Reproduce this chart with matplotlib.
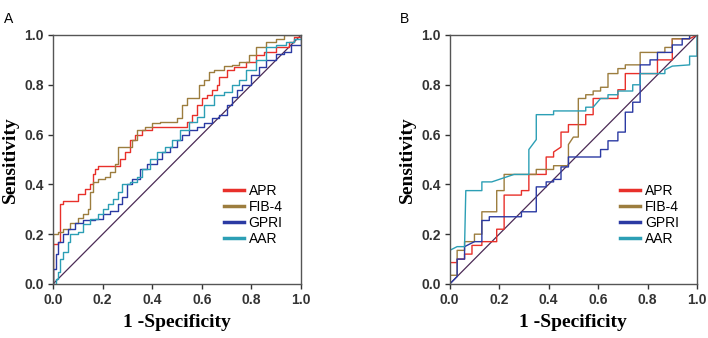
import matplotlib.pyplot as plt

# Panel A (steps)
a_apr_x = [0, 0, 0.02, 0.03, 0.04, 0.09, 0.10, 0.13, 0.15, 0.16, 0.17, 0.18, 0.25, 0.27, 0.29, 0.31, 0.33, 0.36, 0.40, 0.52, 0.54, 0.56, 0.58, 0.60, 0.62, 0.64, 0.66, 0.67, 0.70, 0.73, 0.78, 0.82, 0.85, 0.90, 0.95, 0.97, 1.0]
a_apr_y = [0, 0.16, 0.17, 0.32, 0.335, 0.335, 0.36, 0.38, 0.40, 0.44, 0.46, 0.475, 0.475, 0.50, 0.53, 0.58, 0.60, 0.62, 0.63, 0.63, 0.65, 0.68, 0.72, 0.745, 0.76, 0.78, 0.80, 0.83, 0.86, 0.87, 0.89, 0.92, 0.93, 0.95, 0.97, 0.99, 1.0]
a_fib_x = [0, 0, 0, 0.02, 0.04, 0.07, 0.10, 0.12, 0.14, 0.15, 0.16, 0.18, 0.21, 0.23, 0.25, 0.26, 0.29, 0.32, 0.34, 0.37, 0.40, 0.43, 0.50, 0.52, 0.54, 0.57, 0.59, 0.61, 0.63, 0.65, 0.69, 0.72, 0.75, 0.79, 0.82, 0.86, 0.90, 0.93, 1.0]
a_fib_y = [0, 0.08, 0.20, 0.21, 0.22, 0.245, 0.265, 0.28, 0.30, 0.37, 0.41, 0.42, 0.43, 0.45, 0.48, 0.55, 0.55, 0.58, 0.62, 0.63, 0.645, 0.65, 0.665, 0.72, 0.745, 0.745, 0.80, 0.82, 0.85, 0.86, 0.875, 0.88, 0.89, 0.92, 0.95, 0.97, 0.985, 1.0, 1.0]
a_gpri_x = [0, 0, 0.01, 0.02, 0.04, 0.06, 0.09, 0.12, 0.17, 0.20, 0.23, 0.26, 0.28, 0.30, 0.32, 0.35, 0.38, 0.42, 0.44, 0.47, 0.50, 0.52, 0.55, 0.58, 0.61, 0.64, 0.67, 0.70, 0.72, 0.74, 0.76, 0.80, 0.83, 0.86, 0.90, 0.93, 0.96, 1.0]
a_gpri_y = [0, 0.06, 0.12, 0.17, 0.20, 0.22, 0.245, 0.255, 0.26, 0.28, 0.295, 0.32, 0.35, 0.40, 0.42, 0.46, 0.48, 0.50, 0.53, 0.55, 0.58, 0.60, 0.62, 0.63, 0.645, 0.665, 0.68, 0.72, 0.75, 0.78, 0.80, 0.84, 0.87, 0.90, 0.925, 0.93, 0.96, 1.0]
a_aar_x = [0, 0.01, 0.02, 0.03, 0.04, 0.06, 0.07, 0.10, 0.12, 0.15, 0.18, 0.20, 0.22, 0.24, 0.26, 0.28, 0.31, 0.34, 0.36, 0.39, 0.42, 0.45, 0.48, 0.51, 0.55, 0.58, 0.61, 0.65, 0.69, 0.72, 0.75, 0.78, 0.82, 0.86, 0.90, 0.94, 0.97, 1.0]
a_aar_y = [0, 0.02, 0.05, 0.10, 0.13, 0.17, 0.20, 0.21, 0.24, 0.26, 0.28, 0.30, 0.32, 0.34, 0.37, 0.40, 0.41, 0.43, 0.46, 0.50, 0.53, 0.55, 0.58, 0.62, 0.65, 0.67, 0.72, 0.76, 0.77, 0.80, 0.82, 0.86, 0.90, 0.95, 0.96, 0.97, 0.985, 1.0]

# Panel B (vertices)
b_apr_x = [0, 0, 0.03, 0.03, 0.06, 0.06, 0.09, 0.09, 0.13, 0.13, 0.19, 0.19, 0.22, 0.22, 0.26, 0.29, 0.29, 0.32, 0.32, 0.39, 0.39, 0.42, 0.42, 0.45, 0.45, 0.48, 0.48, 0.55, 0.55, 0.58, 0.58, 0.68, 0.68, 0.71, 0.71, 0.84, 0.84, 0.90, 0.90, 0.97, 1.0]
b_apr_y = [0, 0.086, 0.086, 0.10, 0.10, 0.12, 0.12, 0.155, 0.155, 0.17, 0.17, 0.22, 0.22, 0.357, 0.357, 0.357, 0.375, 0.375, 0.44, 0.44, 0.51, 0.51, 0.53, 0.55, 0.61, 0.61, 0.64, 0.64, 0.68, 0.68, 0.745, 0.745, 0.78, 0.78, 0.845, 0.845, 0.90, 0.90, 0.985, 0.985, 1.0]
b_fib_x = [0, 0, 0.03, 0.03, 0.06, 0.06, 0.10, 0.10, 0.13, 0.13, 0.19, 0.19, 0.22, 0.22, 0.35, 0.35, 0.42, 0.42, 0.48, 0.48, 0.50, 0.52, 0.52, 0.55, 0.55, 0.58, 0.58, 0.61, 0.61, 0.64, 0.64, 0.68, 0.68, 0.71, 0.71, 0.77, 0.77, 0.87, 0.87, 0.90, 0.90, 0.97, 0.97, 1.0]
b_fib_y = [0, 0.035, 0.035, 0.135, 0.135, 0.17, 0.17, 0.20, 0.20, 0.29, 0.29, 0.375, 0.375, 0.44, 0.44, 0.46, 0.46, 0.475, 0.475, 0.56, 0.59, 0.59, 0.745, 0.745, 0.76, 0.76, 0.775, 0.775, 0.79, 0.79, 0.845, 0.845, 0.865, 0.865, 0.88, 0.88, 0.93, 0.93, 0.95, 0.95, 0.985, 0.985, 1.0, 1.0]
b_gpri_x = [0, 0.03, 0.03, 0.06, 0.06, 0.10, 0.13, 0.13, 0.16, 0.16, 0.29, 0.29, 0.35, 0.35, 0.39, 0.39, 0.42, 0.42, 0.45, 0.45, 0.48, 0.48, 0.61, 0.61, 0.64, 0.64, 0.68, 0.68, 0.71, 0.71, 0.74, 0.74, 0.77, 0.77, 0.81, 0.81, 0.84, 0.84, 0.90, 0.90, 0.94, 0.94, 0.97, 0.97, 1.0]
b_gpri_y = [0, 0.03, 0.10, 0.10, 0.15, 0.17, 0.17, 0.255, 0.255, 0.27, 0.27, 0.29, 0.29, 0.39, 0.39, 0.41, 0.41, 0.42, 0.42, 0.47, 0.47, 0.51, 0.51, 0.54, 0.54, 0.575, 0.575, 0.61, 0.61, 0.69, 0.69, 0.73, 0.73, 0.88, 0.88, 0.90, 0.90, 0.93, 0.93, 0.96, 0.96, 0.985, 0.985, 1.0, 1.0]
b_aar_x = [0, 0, 0.03, 0.06, 0.065, 0.13, 0.13, 0.17, 0.26, 0.32, 0.32, 0.35, 0.35, 0.42, 0.42, 0.55, 0.55, 0.58, 0.61, 0.64, 0.64, 0.68, 0.68, 0.74, 0.74, 0.77, 0.77, 0.84, 0.87, 0.87, 0.90, 0.90, 0.97, 0.97, 1.0, 1.0]
b_aar_y = [0, 0.135, 0.15, 0.15, 0.375, 0.375, 0.41, 0.41, 0.44, 0.44, 0.54, 0.58, 0.68, 0.68, 0.695, 0.695, 0.71, 0.71, 0.745, 0.745, 0.76, 0.76, 0.775, 0.775, 0.80, 0.80, 0.845, 0.845, 0.845, 0.86, 0.875, 0.875, 0.88, 0.915, 0.915, 1.0]

labels = ["APR", "FIB-4", "GPRI", "AAR"]
colors = ["#e8302a", "#9c7d3e", "#2b3aa3", "#2c9fb5"]
ticks = [0.0, 0.2, 0.4, 0.6, 0.8, 1.0]

fig = plt.figure(figsize=(7.08, 3.38), dpi=100)
axA = fig.add_axes([0.0749, 0.1598, 0.3503, 0.7367])
axB = fig.add_axes([0.6352, 0.1598, 0.3493, 0.7367])

series_a = [(a_apr_x, a_apr_y), (a_fib_x, a_fib_y), (a_gpri_x, a_gpri_y), (a_aar_x, a_aar_y)]
series_b = [(b_apr_x, b_apr_y), (b_fib_x, b_fib_y), (b_gpri_x, b_gpri_y), (b_aar_x, b_aar_y)]

for ax, series, steps, tag in [(axA, series_a, True, "A"), (axB, series_b, False, "B")]:
    ax.plot([0, 1], [0, 1], color="#4b2a55", lw=0.9, zorder=1)
    for (x, y), c, lab in zip(series, colors, labels):
        ax.plot(x, y, color=c, lw=1.0, label=lab,
                drawstyle="steps-post" if steps else "default", zorder=2)
    ax.set_xlim(0, 1)
    ax.set_ylim(0, 1)
    ax.set_xticks(ticks)
    ax.set_yticks(ticks)
    ax.set_xticklabels([f"{t:.1f}" for t in ticks], fontweight="bold", fontsize=10, family="Liberation Sans")
    ax.set_yticklabels([f"{t:.1f}" for t in ticks], fontweight="bold", fontsize=10, family="Liberation Sans")
    ax.tick_params(direction="out", length=3.5, width=1, colors="#333333", pad=3)
    for s in ax.spines.values():
        s.set_color("#555555")
        s.set_linewidth(1.0)
    ax.set_xlabel("1 -Specificity", family="Liberation Serif", fontweight="bold", fontsize=14, labelpad=5)
    ax.set_ylabel("Sensitivity", family="Liberation Serif", fontweight="bold", fontsize=14, labelpad=4)
    leg = ax.legend(loc="center left", bbox_to_anchor=(0.66, 0.277), frameon=False,
                    prop={"family": "Liberation Sans", "size": 10}, handlelength=1.45,
                    handletextpad=0.35, labelspacing=0.15, borderpad=0)
    for h in leg.get_lines():
        h.set_linewidth(2.5)
    fig.text(ax.get_position().x0 - 0.07, 0.945, tag, fontsize=10, family="Liberation Sans", va="center")

fig.savefig("out.png", dpi=100)
